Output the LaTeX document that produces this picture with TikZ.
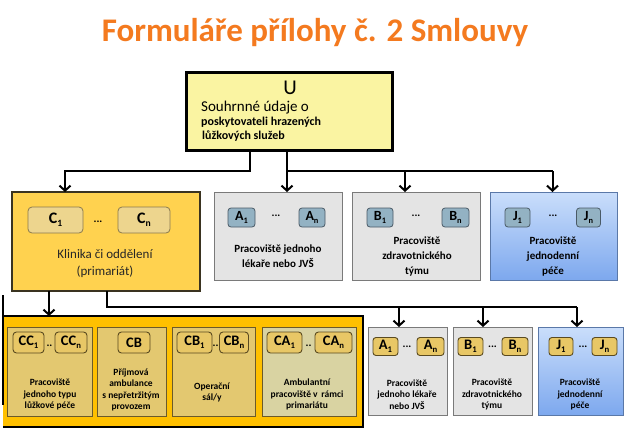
\documentclass[tikz,border=0pt]{standalone}
\usepackage{fontspec}
\setmainfont{Carlito}
\usetikzlibrary{arrows.meta,calc}
\definecolor{titleor}{HTML}{F47A1F}
\definecolor{uyellow}{HTML}{FAF4A2}
\definecolor{kyellow}{HTML}{FFD24F}
\definecolor{kborder}{HTML}{3A3320}
\definecolor{ksmall}{HTML}{EDD58E}
\definecolor{ksmallb}{HTML}{8A7A4E}
\definecolor{gfill}{HTML}{E4E4E4}
\definecolor{gborder}{HTML}{7A7A7A}
\definecolor{bsmall}{HTML}{93B2C3}
\definecolor{bsmallb}{HTML}{4A5A66}
\definecolor{jtop}{HTML}{CADEFB}
\definecolor{jbot}{HTML}{7DA8EE}
\definecolor{jborder}{HTML}{5A78A8}
\definecolor{ofill}{HTML}{FFC000}
\definecolor{osub}{HTML}{E3C870}
\definecolor{osubb}{HTML}{6B5A2A}
\definecolor{oca}{HTML}{D9D3A2}
\definecolor{tsmall}{HTML}{E8C766}
\definecolor{tsmallb}{HTML}{5A4A20}
\newcommand{\lo}[1]{\raisebox{-0.45ex}{\scalebox{0.6}{#1}}}
\tikzset{
  box/.style={anchor=north west, inner sep=0pt, outer sep=0pt},
  ubox/.style={box, draw=black, line width=3pt, fill=uyellow},
  kbox/.style={box, draw=kborder, line width=1.5pt, fill=kyellow},
  gbox/.style={box, draw=gborder, line width=0.8pt, fill=gfill},
  jbox/.style={box, draw=jborder, line width=0.8pt, top color=jtop, bottom color=jbot},
  obox/.style={box, fill=ofill},
  osbox/.style={box, draw=osubb, line width=1pt, fill=osub},
  cabox/.style={box, draw=osubb, line width=1pt, fill=oca},
  ksm/.style={draw=ksmallb, line width=0.8pt, fill=ksmall, rounded corners=4pt, inner sep=0pt, minimum height=26pt, font=\bfseries\fontsize{16}{16}\selectfont},
  bsm/.style={draw=bsmallb, line width=0.8pt, fill=bsmall, rounded corners=3pt, inner sep=0pt, minimum height=19pt, font=\bfseries\fontsize{14}{14}\selectfont},
  tsm/.style={draw=tsmallb, line width=0.9pt, fill=tsmall, rounded corners=3.5pt, inner sep=0pt, minimum height=21pt, font=\bfseries\fontsize{14.5}{14.5}\selectfont},
  rsm/.style={draw=tsmallb, line width=0.9pt, fill=tsmall, rounded corners=3pt, inner sep=0pt, minimum height=18pt, font=\bfseries\fontsize{14.5}{14.5}\selectfont},
  dots/.style={inner sep=0pt, font=\bfseries\fontsize{11}{11}\selectfont},
  lbl/.style={align=center, inner sep=0pt, font=\bfseries\fontsize{11}{15}\selectfont},
  slbl/.style={align=center, inner sep=0pt, font=\bfseries\fontsize{9.5}{11.5}\selectfont},
  conn/.style={line width=2pt, draw=black},
  arr/.style={conn, -{Straight Barb[length=5pt,width=11pt,line width=2pt]}},
}
\begin{document}
\begin{tikzpicture}[x=1pt,y=-1pt]
\useasboundingbox[fill=white] (0,0) rectangle (630,437);

% title
\node[inner sep=0pt, text=titleor, font=\bfseries\fontsize{33}{38}\selectfont] (title) at (315,33) {Formuláře přílohy č. 2 Smlouvy};

% U box
\node[ubox, minimum width=206pt, minimum height=78pt] (U) at (186,72) {};
\node[inner sep=0pt, font=\fontsize{21}{21}\selectfont] (ulbl) at (290,88) {U};
\node[inner sep=0pt, anchor=west, font=\fontsize{15}{16}\selectfont] (u1) at (201,108) {Souhrnné údaje o};
\node[inner sep=0pt, anchor=west, font=\bfseries\fontsize{12}{13}\selectfont] (u2) at (201,122) {poskytovateli hrazených};
\node[inner sep=0pt, anchor=west, font=\bfseries\fontsize{12}{13}\selectfont] (u3) at (202,136) {lůžkových služeb};

% Klinika box
\node[kbox, minimum width=188pt, minimum height=99pt] (K) at (12,192) {};
\node[ksm, minimum width=55pt] (c1) at (55.5,220) {C\lo{1}};
\node[dots] (cd) at (98,222) {...};
\node[ksm, minimum width=52pt] (cn) at (144,220) {C\lo{n}};
\node[align=center, inner sep=0pt, font=\fontsize{13}{17}\selectfont, text=black!85] (klbl) at (105,263.5) {Klinika či oddělení\\(primariát)};

% top row gray / blue boxes
\node[gbox, minimum width=128pt, minimum height=88pt] (A) at (214,192) {};
\node[bsm, minimum width=27pt] (a1) at (241.5,217.5) {A\lo{1}};
\node[dots] (ad) at (276,216) {...};
\node[bsm, minimum width=26pt] (an) at (312,217.5) {A\lo{n}};
\node[lbl] (albl) at (278,256) {Pracoviště jednoho\\lékaře nebo JVŠ};

\node[gbox, minimum width=128pt, minimum height=88pt] (B) at (352,192) {};
\node[bsm, minimum width=26pt] (b1) at (380,217.5) {B\lo{1}};
\node[dots] (bd) at (416,216) {...};
\node[bsm, minimum width=27pt] (bn) at (455.5,217.5) {B\lo{n}};
\node[lbl] (blbl) at (417,257) {Pracoviště\\zdravotnického\\týmu};

\node[jbox, minimum width=127pt, minimum height=88pt] (J) at (490,192) {};
\node[bsm, minimum width=25pt] (j1) at (517.5,217.5) {J\lo{1}};
\node[dots] (jd) at (553,216) {...};
\node[bsm, minimum width=24pt] (jn) at (588.5,217.5) {J\lo{n}};
\node[lbl] (jlbl) at (553,257) {Pracoviště\\jednodenní\\péče};

% orange group box
\node[obox, minimum width=360pt, minimum height=111pt] (O) at (3,316) {};
\draw[line width=2.5pt] (O.north west) -- (O.north east) -- (O.south east) -- (O.south west);
\draw[line width=2pt] ($(O.north west)+(0,-21)$) -- ($(O.north west)+(0,89)$);

\node[osbox, minimum width=85pt, minimum height=89pt] (CC) at (7,327) {};
\node[tsm, minimum width=31pt] (cc1) at (28.5,342.5) {CC\lo{1}};
\node[dots] (ccd) at (49.5,346) {..};
\node[tsm, minimum width=32pt] (ccn) at (71,342.5) {CC\lo{n}};
\node[slbl] (cclbl) at (50,394.5) {Pracoviště\\jednoho typu\\lůžkové péče};

\node[osbox, minimum width=69pt, minimum height=89pt] (CB) at (97,327) {};
\node[tsm, minimum width=32pt] (cb) at (134,342.5) {CB};
\node[slbl] (cblbl) at (131,390) {Příjmová\\ambulance\\s nepřetržitým\\provozem};

\node[osbox, minimum width=83pt, minimum height=89pt] (CBg) at (172,327) {};
\node[tsm, minimum width=35pt] (cb1) at (194.5,342.5) {CB\lo{1}};
\node[dots] (cbd) at (215.5,346) {..};
\node[tsm, minimum width=29pt] (cbn) at (234,342.5) {CB\lo{n}};
\node[slbl] (cbglbl) at (212,392.5) {Operační\\sál/y};

\node[cabox, minimum width=94pt, minimum height=89pt] (CA) at (262,327) {};
\node[tsm, minimum width=35pt] (ca1) at (284.5,342.5) {CA\lo{1}};
\node[dots] (cad) at (308.5,346) {..};
\node[tsm, minimum width=37pt] (can) at (333.5,342.5) {CA\lo{n}};
\node[slbl] (calbl) at (307,394.5) {Ambulantní\\pracoviště v\, rámci\\primariátu};

% bottom right boxes
\node[gbox, minimum width=79pt, minimum height=88pt] (A2) at (368,327) {};
\node[rsm, minimum width=25pt] (a21) at (385.5,346.5) {A\lo{1}};
\node[dots] (a2d) at (407,347) {...};
\node[rsm, minimum width=27pt] (a2n) at (430.5,346.5) {A\lo{n}};
\node[slbl] (a2lbl) at (407,394.5) {Pracoviště\\jednoho lékaře\\nebo JVŠ};

\node[gbox, minimum width=79pt, minimum height=88pt] (B2) at (453,327) {};
\node[rsm, minimum width=25pt] (b21) at (470.5,346.5) {B\lo{1}};
\node[dots] (b2d) at (492.5,347) {...};
\node[rsm, minimum width=26pt] (b2n) at (515,346.5) {B\lo{n}};
\node[slbl] (b2lbl) at (492,394.5) {Pracoviště\\zdravotnického\\týmu};

\node[jbox, minimum width=85pt, minimum height=88pt] (J2) at (538,327) {};
\node[rsm, minimum width=24pt] (j21) at (561,346.5) {J\lo{1}};
\node[dots] (j2d) at (583,347) {...};
\node[rsm, minimum width=25pt] (j2n) at (604.5,346.5) {J\lo{n}};
\node[slbl] (j2lbl) at (580,394.5) {Pracoviště\\jednodenní\\péče};

% connectors top
\coordinate (uj1) at (250,171);
\coordinate (kin) at ($(K.north west)+(53,0)$);
\coordinate (ain) at ($(A.north)+(9,0)$);
\coordinate (bin) at ($(B.north)+(-11,0)$);
\coordinate (jin) at ($(J.north)+(-1,0)$);
\draw[arr] (U.south -| uj1) -- (uj1) -| (kin);
\draw[arr] (U.south -| ain) -- (ain);
\draw[conn] (ain |- uj1) -- (jin |- uj1);
\draw[arr] (bin |- uj1) -- (bin);
\draw[arr] (jin |- uj1) -- (jin);

% connectors bottom
\coordinate (lj) at (107,307);
\coordinate (oin) at ($(O.north west)+(46,0)$);
\coordinate (a2in) at ($(A2.north)+(-8.5,0)$);
\coordinate (b2in) at ($(B2.north)+(-9.5,0)$);
\coordinate (j2in) at ($(J2.north)+(-3.5,0)$);
\draw[arr] (K.south -| oin) -- (oin);
\draw[conn] (K.south -| lj) -- (lj) -- (j2in |- lj);
\draw[arr] (a2in |- lj) -- (a2in);
\draw[arr] (b2in |- lj) -- (b2in);
\draw[arr] (j2in |- lj) -- (j2in);
\end{tikzpicture}
\end{document}
